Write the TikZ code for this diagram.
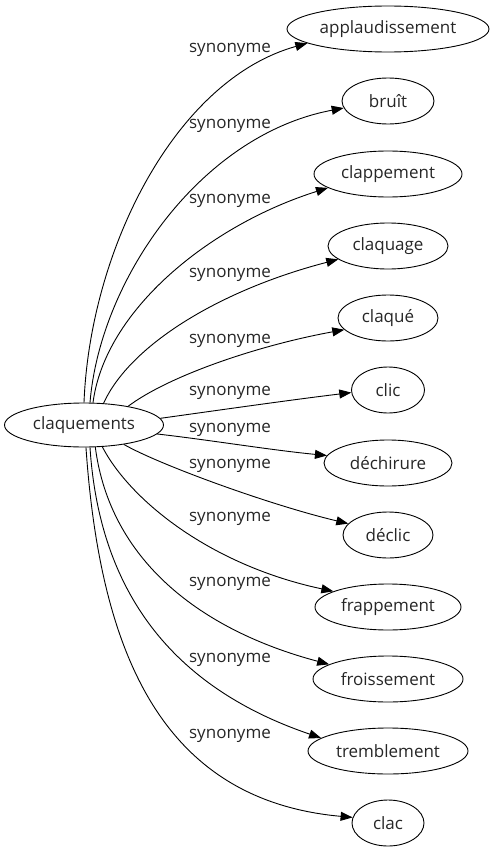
\documentclass[tikz,border=0pt]{standalone}
\usepackage{fontspec}
\setmainfont{Open Sans}
\usetikzlibrary{shapes.geometric,arrows.meta}
\begin{document}
\begin{tikzpicture}[x=1pt,y=-1pt,
  every node/.style={font=\fontsize{17}{20}\selectfont, text=black!85},
  nd/.style={draw=black, ellipse, inner sep=0pt, minimum height=46pt, line width=0.9pt},
  lab/.style={inner sep=0pt},
  edgeln/.style={line width=0.9pt, -{Triangle[length=12pt,width=9pt]}}]
\useasboundingbox (0,0) rectangle (495,851);
\node[nd, minimum width=159pt, minimum height=44pt] (s) at (84,425) {claquements};
\node[nd, minimum width=202pt] (t1) at (388,29) {applaudissement};
\node[nd, minimum width=92pt] (t2) at (388,101) {bruît};
\node[nd, minimum width=148pt] (t3) at (388,174) {clappement};
\node[nd, minimum width=120pt] (t4) at (388,246) {claquage};
\node[nd, minimum width=100pt] (t5) at (388,318) {claqué};
\node[nd, minimum width=73pt] (t6) at (388,390) {clic};
\node[nd, minimum width=128pt] (t7) at (388,463) {déchirure};
\node[nd, minimum width=90pt] (t8) at (388,535) {déclic};
\node[nd, minimum width=146pt] (t9) at (388,607) {frappement};
\node[nd, minimum width=150pt] (t10) at (388,679) {froissement};
\node[nd, minimum width=160pt] (t11) at (388,751) {tremblement};
\node[nd, minimum width=72pt] (t12) at (388,823) {clac};

\draw[edgeln] (s.90) .. controls (90,250) and (175,80) .. (t1.190);
\draw[edgeln] (s.75) .. controls (100,280) and (200,135) .. (t2.189);
\draw[edgeln] (s.68) .. controls (105,310) and (210,225) .. (t3.193);
\draw[edgeln] (s.48) .. controls (130,345) and (220,290) .. (t4.195);
\draw[edgeln] (s.23) .. controls (170,375) and (260,345) .. (t5.195);
\draw[edgeln] (s.5) .. controls (220,410) and (290,400) .. (t6.184);
\draw[edgeln] (s.-7) .. controls (210,440) and (270,450) .. (t7.173);
\draw[edgeln] (s.-26) .. controls (160,465) and (270,505) .. (t8.164);
\draw[edgeln] (s.-50) .. controls (130,500) and (210,565) .. (t9.164);
\draw[edgeln] (s.-63) .. controls (110,560) and (200,630) .. (t10.166);
\draw[edgeln] (s.-75) .. controls (100,600) and (180,690) .. (t11.169);
\draw[edgeln] (s.-85) .. controls (100,650) and (160,800) .. (t12.171);

\node[lab] (l1) at (230,50) {synonyme};
\node[lab] (l2) at (230,126) {synonyme};
\node[lab] (l3) at (230,201) {synonyme};
\node[lab] (l4) at (230,275) {synonyme};
\node[lab] (l5) at (230,341) {synonyme};
\node[lab] (l6) at (230,393) {synonyme};
\node[lab] (l7) at (230,430) {synonyme};
\node[lab] (l8) at (230,466) {synonyme};
\node[lab] (l9) at (230,519) {synonyme};
\node[lab] (l10) at (230,584) {synonyme};
\node[lab] (l11) at (230,660) {synonyme};
\node[lab] (l12) at (230,736) {synonyme};
\end{tikzpicture}
\end{document}
